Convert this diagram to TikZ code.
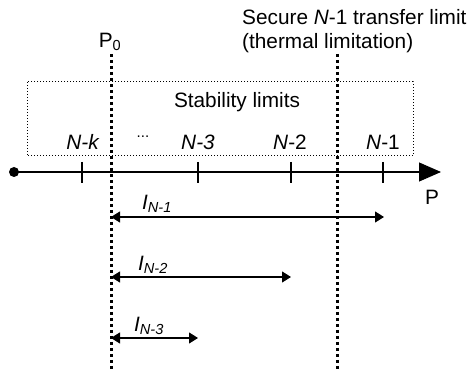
\documentclass[tikz,border=0pt]{standalone}
\usepackage{fontspec}
\setmainfont{Liberation Sans}
\usetikzlibrary{arrows.meta}
\begin{document}
\begin{tikzpicture}[x=1pt,y=-1pt,
  lbl/.style={inner sep=0pt,font=\fontsize{20.8}{23}\selectfont},
  limitline/.style={line width=3pt,dash pattern=on 3.5pt off 2.5pt},
  interval/.style={line width=1.1pt,{Triangle[length=9pt,width=11pt]}-{Triangle[length=9pt,width=11pt]}},
  tickmark/.style={line width=1.1pt}]
\useasboundingbox (0,0) rectangle (475,371);
% stability region box
\draw[dotted,line width=1pt] (27,82) rectangle (413,156);
% power axis
\coordinate (origin) at (14,172);
\coordinate (axisend) at (441,172);
\fill (origin) circle (5);
\draw[line width=1.1pt,-{Triangle[length=22pt,width=19pt]}] (origin) -- (axisend);
\node[lbl] (P) at (432,197) {P};
% tick marks
\foreach \x/\n in {82/tk,198/t3,291/t2,383/t1}{
  \coordinate (\n) at (\x,172);
  \draw[tickmark] (\x,162) -- (\x,183);
}
% contingency labels
\node[lbl] (Nk) at (83,142) {\textit{N-k}};
\node[lbl] (dots) at (143,137) {\fontsize{15}{16}\selectfont ...};
\node[lbl] (N3) at (198,142) {\textit{N-3}};
\node[lbl] (N2) at (290,142) {\textit{N}-2};
\node[lbl] (N1) at (383,142) {\textit{N}-1};
\node[lbl] (stab) at (237,102) {Stability limits};
% operating point and thermal limit
\node[lbl] (P0) at (110,42) {P\textsubscript{0}};
\node[lbl,anchor=west] (sec) at (242,17) {Secure \textit{N}-1 transfer limit};
\node[lbl,anchor=west] (therm) at (242,43) {(thermal limitation)};
\coordinate (p0top) at (111,54);
\coordinate (p0bot) at (111,371);
\coordinate (thtop) at (337,54);
\coordinate (thbot) at (337,371);
\draw[limitline] (p0top) -- (p0bot);
\draw[limitline] (thtop) -- (thbot);
% margins
\coordinate (a1) at (111,217); \coordinate (b1) at (384,217);
\coordinate (a2) at (111,277); \coordinate (b2) at (291,277);
\coordinate (a3) at (111,338); \coordinate (b3) at (198,338);
\draw[interval] (a1) -- (b1);
\draw[interval] (a2) -- (b2);
\draw[interval] (a3) -- (b3);
\node[lbl] (l1) at (157,204) {\textit{I}\textsubscript{\textit{N-1}}};
\node[lbl] (l2) at (153,265) {\textit{I}\textsubscript{\textit{N-2}}};
\node[lbl] (l3) at (149,326) {\textit{I}\textsubscript{\textit{N-3}}};
\end{tikzpicture}
\end{document}
